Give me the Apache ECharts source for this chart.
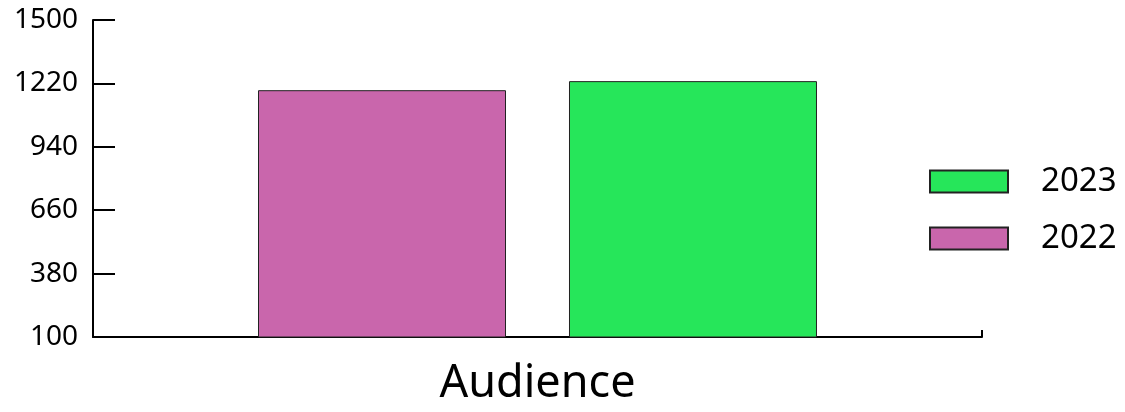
<!DOCTYPE html>
<html><head><meta charset="utf-8">
<script src="https://cdn.jsdelivr.net/npm/echarts@6/dist/echarts.min.js"></script>
<style>html,body{margin:0;padding:0;background:#fff}#c{width:1125px;height:412px}</style>
</head><body><div id="c"></div>
<script>
const categories = ['Audience'];
const seriesNames = ['2022', '2023'];
const values2022 = [1190];
const values2023 = [1230];
const legendOrder = ['2023', '2022'];
const yMin = 100, yMax = 1500, yInterval = 280;

const chart = echarts.init(document.getElementById('c'));
const font = 'Noto Sans';
chart.setOption({
  animation: false,
  textStyle: { fontFamily: font },
  grid: { left: 93, right: 143, top: 20, bottom: 74, containLabel: false },
  legend: {
    data: legendOrder, orient: 'vertical', left: 924, top: 160,
    itemWidth: 78, itemHeight: 22, itemGap: 24,
    textStyle: { fontSize: 33, color: '#000', fontFamily: font, padding: [0, 0, 0, 28] },
    icon: 'rect'
  },
  xAxis: {
    type: 'category', data: categories,
    name: 'Audience', nameLocation: 'middle', nameGap: 25,
    nameTextStyle: { fontSize: 45, color: '#000', fontFamily: font },
    axisLine: { lineStyle: { color: '#000', width: 2 } },
    axisTick: { show: true, inside: true, length: 7, lineStyle: { color: '#000', width: 2 } },
    axisLabel: { show: false }
  },
  yAxis: {
    type: 'value', min: yMin, max: yMax, interval: yInterval,
    axisLine: { show: true, lineStyle: { color: '#000', width: 2 } },
    axisTick: { show: true, inside: true, length: 22, lineStyle: { color: '#000', width: 2 } },
    axisLabel: { fontSize: 28, color: '#000', margin: 15, fontFamily: font, formatter: v => String(v) },
    splitLine: { show: false }
  },
  series: [
    { name: seriesNames[0], type: 'bar', data: values2022, barWidth: 248, barGap: '25.4%',
      itemStyle: { color: '#C966AC', borderColor: '#222', borderWidth: 1 } },
    { name: seriesNames[1], type: 'bar', data: values2023, barWidth: 248, barGap: '25.4%',
      itemStyle: { color: '#26E65A', borderColor: '#222', borderWidth: 1 } }
  ]
});
</script></body></html>
